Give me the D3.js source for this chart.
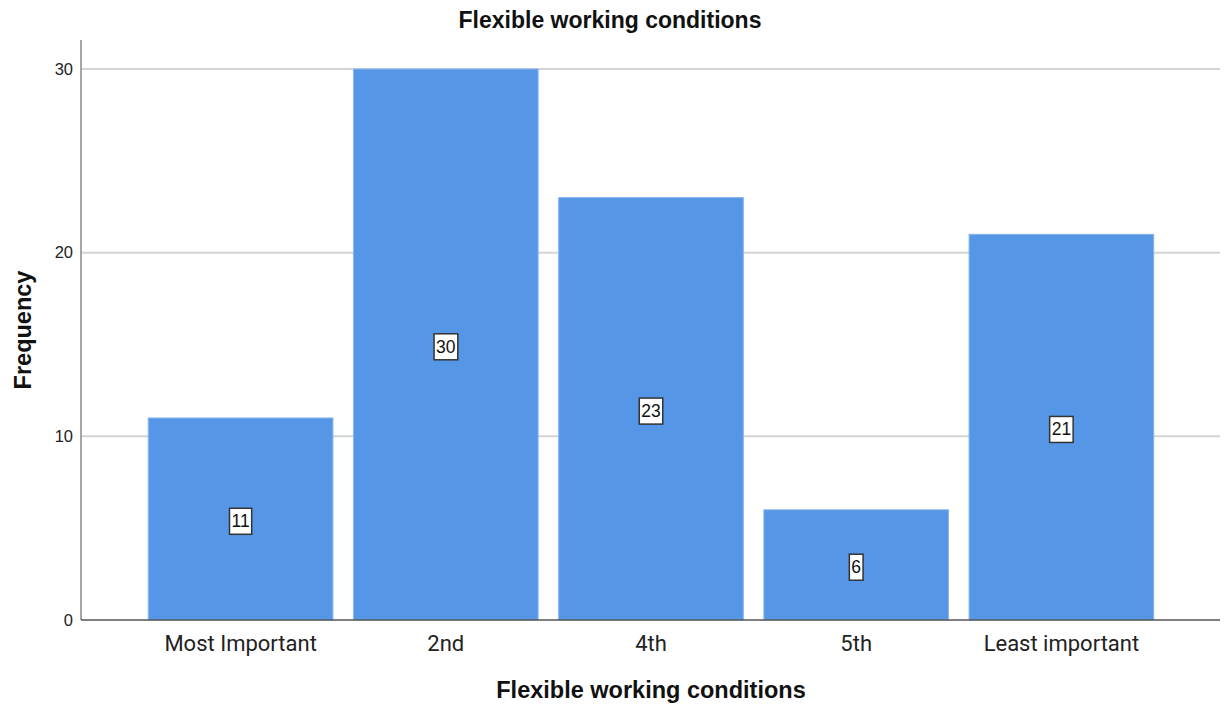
<!DOCTYPE html>
<html>
<head>
<meta charset="utf-8">
<script src="https://cdn.jsdelivr.net/npm/d3@7"></script>
<style>
  html, body { margin: 0; padding: 0; background: #fff; }
  svg { display: block; }
</style>
</head>
<body>
<script>
// Frequency of "Flexible working conditions" rankings
const categories = ["Most Important", "2nd", "4th", "5th", "Least important"];
const frequencies = [11, 30, 23, 6, 21];
const yTicks = [0, 10, 20, 30];

const W = 1226, H = 706;
const plot = { left: 81, right: 1220, top: 40, bottom: 620 };

const svg = d3.select("body").append("svg")
  .attr("width", W).attr("height", H);

const x = d3.scaleBand()
  .domain(categories)
  .range([138, 1164])
  .paddingInner(0.1)
  .paddingOuter(0.05);

const y = d3.scaleLinear()
  .domain([0, 30])
  .range([plot.bottom, 69]);

// horizontal grid lines
svg.append("g")
  .selectAll("line")
  .data(yTicks.filter(d => d > 0))
  .join("line")
  .attr("x1", plot.left).attr("x2", plot.right)
  .attr("y1", d => y(d)).attr("y2", d => y(d))
  .attr("stroke", "#d4d4d4")
  .attr("stroke-width", 2);

// bars
svg.append("g")
  .selectAll("rect")
  .data(frequencies)
  .join("rect")
  .attr("x", (d, i) => x(categories[i]))
  .attr("y", d => y(d))
  .attr("width", x.bandwidth())
  .attr("height", d => y(0) - y(d))
  .attr("fill", "#5596e6")
  .attr("stroke", "#8ab6ee")
  .attr("stroke-width", 1);

// axes lines
svg.append("line")
  .attr("x1", plot.left).attr("x2", plot.left)
  .attr("y1", plot.top).attr("y2", plot.bottom)
  .attr("stroke", "#888").attr("stroke-width", 1.5);
svg.append("line")
  .attr("x1", plot.left).attr("x2", plot.right)
  .attr("y1", plot.bottom).attr("y2", plot.bottom)
  .attr("stroke", "#555").attr("stroke-width", 1.5);

// y tick labels
const yAxis = d3.axisLeft(y).tickValues(yTicks).tickSize(0).tickPadding(8);
const gy = svg.append("g")
  .attr("transform", `translate(${plot.left},0)`)
  .call(yAxis);
gy.select(".domain").remove();
gy.selectAll("text")
  .attr("font-family", "Liberation Sans, Arial, sans-serif")
  .attr("font-size", 16.5)
  .attr("fill", "#222");

// x category labels
const xAxis = d3.axisBottom(x).tickSize(0).tickPadding(15);
const gx = svg.append("g")
  .attr("transform", `translate(0,${plot.bottom})`)
  .call(xAxis);
gx.select(".domain").remove();
gx.selectAll("text")
  .attr("font-family", "Roboto, 'Liberation Sans', sans-serif")
  .attr("font-size", 22)
  .attr("fill", "#222");

// value labels in boxes at bar mid-height
const labels = svg.append("g")
  .selectAll("g")
  .data(frequencies)
  .join("g")
  .attr("transform", (d, i) => `translate(${x(categories[i]) + x.bandwidth() / 2},${y(d / 2) + 2})`);
labels.append("text")
  .attr("text-anchor", "middle")
  .attr("dy", "0.36em")
  .attr("font-family", "Liberation Sans, Arial, sans-serif")
  .attr("font-size", 17.5)
  .attr("fill", "#111")
  .text(d => d);
labels.each(function () {
  const g = d3.select(this);
  const bb = g.select("text").node().getBBox();
  g.insert("rect", "text")
    .attr("x", bb.x - 2).attr("y", bb.y - 3)
    .attr("width", bb.width + 4).attr("height", bb.height + 6)
    .attr("fill", "#fff")
    .attr("stroke", "#333")
    .attr("stroke-width", 1.5);
});

// titles
svg.append("text")
  .attr("x", 610).attr("y", 28)
  .attr("text-anchor", "middle")
  .attr("font-family", "Liberation Sans, Arial, sans-serif")
  .attr("font-weight", "bold")
  .attr("font-size", 23)
  .attr("fill", "#111")
  .text("Flexible working conditions");

svg.append("text")
  .attr("x", 651).attr("y", 698)
  .attr("text-anchor", "middle")
  .attr("font-family", "Liberation Sans, Arial, sans-serif")
  .attr("font-weight", "bold")
  .attr("font-size", 23.5)
  .attr("fill", "#111")
  .text("Flexible working conditions");

svg.append("text")
  .attr("transform", "translate(31,330) rotate(-90)")
  .attr("text-anchor", "middle")
  .attr("font-family", "Liberation Sans, Arial, sans-serif")
  .attr("font-weight", "bold")
  .attr("font-size", 23.5)
  .attr("fill", "#111")
  .text("Frequency");
</script>
</body>
</html>
